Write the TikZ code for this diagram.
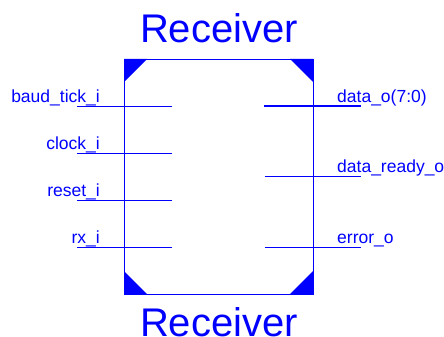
\documentclass[tikz,border=0pt]{standalone}
\usepackage{fontspec}
\setmainfont{Liberation Sans}
\usepackage{tikz}

\begin{document}
\begin{tikzpicture}[x=1pt,y=-1pt,
		pinline/.style={draw=blue, line width=0.8pt},
		busline/.style={draw=blue, line width=2pt},
		inlabel/.style={anchor=base east, text=blue, inner sep=0pt, font=\fontsize{17.5}{20}\selectfont},
		outlabel/.style={anchor=base west, text=blue, inner sep=0pt, font=\fontsize{17.5}{20}\selectfont},
		title/.style={anchor=base, text=blue, inner sep=0pt, font=\fontsize{40}{48}\selectfont}]
		\useasboundingbox (0,0) rectangle (444,337);
		
		\node[title] (top) at (219,43) {Receiver};
		\node[title] (bottom) at (219,336) {Receiver};
		
		\node[draw=blue, line width=0.8pt, minimum width=189, minimum height=235, outer sep=0pt] (box) at (218.5,176.5) {};
		\fill[blue] (box.north west) -- ++(23,0) -- ++(-23,23) -- cycle;
		\fill[blue] (box.north east) -- ++(-23,0) -- ++(23,23) -- cycle;
		\fill[blue] (box.south west) -- ++(23,0) -- ++(-23,-23) -- cycle;
		\fill[blue] (box.south east) -- ++(-23,0) -- ++(23,-23) -- cycle;
		
		% inputs
		\foreach \y/\txt [count=\i] in {106.5/baud\_tick\_i, 153.5/clock\_i, 200.5/reset\_i, 247.5/rx\_i} {
			\coordinate (inA\i) at (77,\y);
			\coordinate (inB\i) at (172,\y);
			\path[pinline] (inA\i) -- (inB\i);
			\node[inlabel] (inlab\i) at (100,\y-4.5) {\txt};
		}
		
		% outputs
		\coordinate (outA1) at (264,106);
		\coordinate (outB1) at (361,106);
		\path[busline] (outA1) -- (outB1);
		\node[outlabel] (outlab1) at (337,102) {data\_o(7:0)};
		\foreach \y/\txt [count=\i from 2] in {176.5/data\_ready\_o, 247.5/error\_o} {
			\coordinate (outA\i) at (265,\y);
			\coordinate (outB\i) at (361,\y);
			\path[pinline] (outA\i) -- (outB\i);
			\node[outlabel] (outlab\i) at (337,\y-4.5) {\txt};
		}
	\end{tikzpicture}
\end{document}
